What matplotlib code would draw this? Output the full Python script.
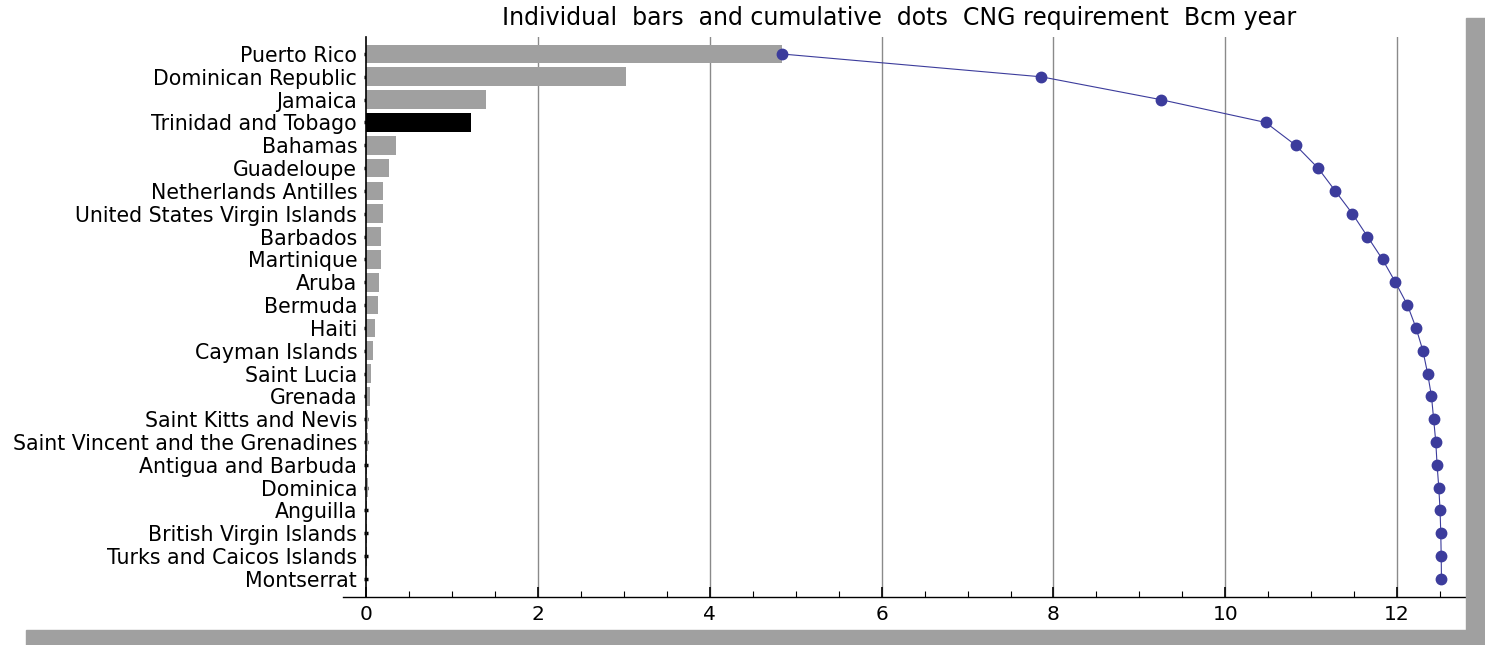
import matplotlib.pyplot as plt
from matplotlib.patches import Rectangle
import numpy as np

countries = ["Puerto Rico", "Dominican Republic", "Jamaica", "Trinidad and Tobago",
             "Bahamas", "Guadeloupe", "Netherlands Antilles", "United States Virgin Islands",
             "Barbados", "Martinique", "Aruba", "Bermuda", "Haiti", "Cayman Islands",
             "Saint Lucia", "Grenada", "Saint Kitts and Nevis",
             "Saint Vincent and the Grenadines", "Antigua and Barbuda", "Dominica",
             "Anguilla", "British Virgin Islands", "Turks and Caicos Islands", "Montserrat"]
# CNG requirement, Bcm per year
cng = [4.84, 3.02, 1.39, 1.22, 0.35, 0.26, 0.20, 0.20, 0.175, 0.175, 0.15, 0.14,
       0.10, 0.08, 0.055, 0.045, 0.025, 0.025, 0.015, 0.02, 0.015, 0.008, 0.005, 0.003]
highlight = "Trinidad and Tobago"

cumulative = np.cumsum(cng)
ypos = np.arange(len(countries))
colors = ["black" if c == highlight else "#a0a0a0" for c in countries]

plt.rcParams['font.family'] = ['DejaVu Sans']

fig = plt.figure(figsize=(14.85, 6.45), dpi=100)
ax = fig.add_axes([343 / 1485, 1 - 597 / 645, (1465 - 343) / 1485, (597 - 37) / 645])

# drop shadow along right and bottom edges
fig.patches.append(Rectangle((1466 / 1485, 0), 1, 1 - 18 / 645, transform=fig.transFigure,
                             color="#a0a0a0", zorder=0))
fig.patches.append(Rectangle((26 / 1485, 0), 1, 15 / 645, transform=fig.transFigure,
                             color="#a0a0a0", zorder=0))

ax.barh(ypos, cng, height=0.82, color=colors, zorder=2)
ax.plot(cumulative, ypos, color="#3c3c9c", lw=0.8, marker="o", ms=7.5, zorder=3)

for x in range(2, 13, 2):
    ax.axvline(x, color="#8a8a8a", lw=1, zorder=1)

ax.set_xlim(-0.27, 12.79)
ax.set_ylim(23.79, -0.745)

for s in ["top", "right"]:
    ax.spines[s].set_visible(False)
ax.spines["left"].set_position(("data", 0))
ax.spines["left"].set_linewidth(1.2)
ax.spines["bottom"].set_linewidth(1.0)

ax.set_yticks(ypos)
ax.set_yticklabels(countries, fontsize=14.8)
ax.tick_params(axis="y", length=3, width=2.5, direction="inout", pad=5)

ax.set_xticks(range(0, 13, 2))
ax.set_xticks(np.arange(0.5, 12.8, 0.5), minor=True)
ax.tick_params(axis="x", which="major", direction="in", length=7, width=1.2, labelsize=14.5, pad=6)
ax.tick_params(axis="x", which="minor", direction="in", length=4, width=0.8)

fig.text(899 / 1485, 1 - 18 / 645,
         "Individual  bars  and cumulative  dots  CNG requirement  Bcm year",
         ha="center", va="center", fontsize=17)

fig.savefig("out.png", dpi=100)
